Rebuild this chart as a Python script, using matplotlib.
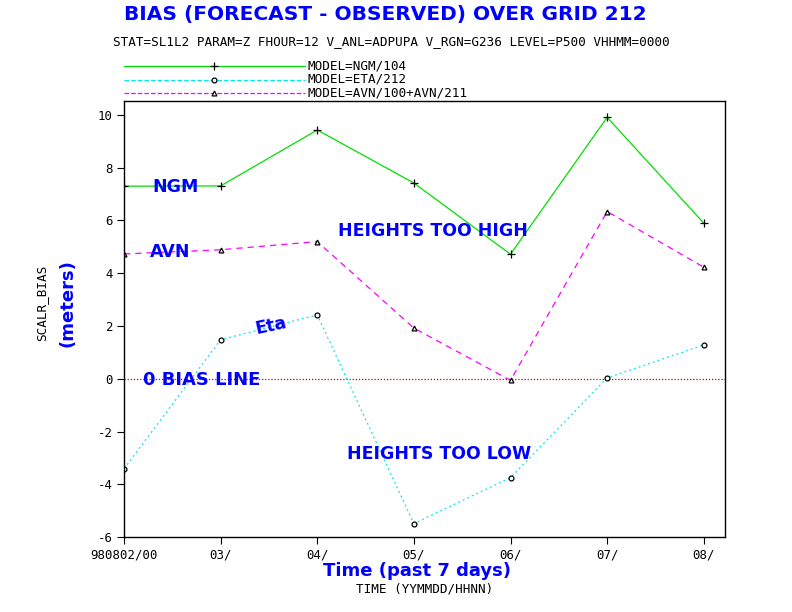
import numpy as np
import matplotlib
matplotlib.use("Agg")
import matplotlib.pyplot as plt

# -----------------------------
# DATA
# -----------------------------
days = [0, 1, 2, 3, 4, 5, 6]
tick_labels = ["980802/00", "03/", "04/", "05/", "06/", "07/", "08/"]

ngm = [7.30, 7.31, 9.43, 7.42, 4.72, 9.91, 5.90]
eta = [-3.41, 1.48, 2.42, -5.49, -3.75, 0.03, 1.28]
avn = [4.73, 4.89, 5.20, 1.92, -0.06, 6.34, 4.23]

MONO = "DejaVu Sans Mono"
BLUE = "#0000ff"
MSIZE = 9.1

fig = plt.figure(figsize=(7.92, 6.12), dpi=100)
ax = fig.add_axes([0.1566, 0.1225, 0.7588, 0.7125])

# -----------------------------
# LINES
# -----------------------------
ln_ngm, = ax.plot(days, ngm, color="#00e000", lw=0.9, ls="-",
                  marker="+", ms=6, mec="black", mew=0.9)
ln_eta, = ax.plot(days, eta, color="#00e8f0", lw=0.9, ls=(0, (1.5, 2.5)),
                  marker="o", ms=3.5, mfc="white", mec="black", mew=0.9)
ln_avn, = ax.plot(days, avn, color="#ff00ff", lw=0.9, ls=(0, (5, 4)),
                  marker="^", ms=3.5, mfc="white", mec="black", mew=0.9)
ax.axhline(0, color="#cc0000", lw=0.9, ls=(0, (1, 1.5)), zorder=1)

ax.set_xlim(0, 6.22)
ax.set_ylim(-6.0, 10.53)
ax.set_xticks(days)
ax.set_xticklabels(tick_labels, family=MONO, fontsize=8.9)
ax.set_yticks([-6, -4, -2, 0, 2, 4, 6, 8, 10])
ax.set_yticklabels(["-6", "-4", "-2", "0", "2", "4", "6", "8", "10"],
                   family=MONO, fontsize=8.9)
ax.tick_params(direction="out", length=5, width=0.8, pad=3)
for s in ax.spines.values():
    s.set_linewidth(1.0)

ax.set_ylabel("SCALR_BIAS", family=MONO, fontsize=MSIZE)
ax.yaxis.set_label_coords(-0.126, 0.537)
ax.set_xlabel("TIME (YYMMDD/HHNN)", family=MONO, fontsize=MSIZE)
ax.xaxis.set_label_coords(0.5, -0.104)

# -----------------------------
# TITLES
# -----------------------------
fig.text(0.486, 0.977, "BIAS (FORECAST - OBSERVED) OVER GRID 212",
         color=BLUE, fontsize=14.5, fontweight="heavy", ha="center", va="center")
fig.text(113 / 792, 1 - 42 / 612,
         "STAT=SL1L2 PARAM=Z FHOUR=12 V_ANL=ADPUPA V_RGN=G236 LEVEL=P500 VHHMM=0000",
         family=MONO, fontsize=MSIZE, ha="left", va="center")

# -----------------------------
# LEGEND (drawn by hand above the axes)
# -----------------------------
leg_rows = [(ln_ngm, "MODEL=NGM/104"), (ln_eta, "MODEL=ETA/212"),
            (ln_avn, "MODEL=AVN/100+AVN/211")]
for i, (ln, lab) in enumerate(leg_rows):
    yy = 1 - (66 + i * 13.5) / 612
    fig.lines.append(plt.Line2D([124 / 792, 305 / 792], [yy, yy], transform=fig.transFigure,
                                color=ln.get_color(), ls=ln.get_linestyle(), lw=0.9))
    fig.lines.append(plt.Line2D([214 / 792], [yy], transform=fig.transFigure,
                                marker=ln.get_marker(), ms=ln.get_markersize(),
                                mfc="white", mec="black", mew=0.9, ls="none"))
    fig.text(308 / 792, yy, lab, family=MONO, fontsize=MSIZE, ha="left", va="center")

# -----------------------------
# ANNOTATIONS
# -----------------------------
def note(x, y, s, size=12.5, rot=0, ha="left"):
    fig.text(x / 792, 1 - y / 612, s, color=BLUE, fontsize=size, fontweight="heavy",
             ha=ha, va="center", rotation=rot)

note(152, 187, "NGM")
note(150, 252, "AVN")
note(253, 326, "Eta", rot=12)
note(143, 380, "0 BIAS LINE", size=13)
note(338, 231, "HEIGHTS TOO HIGH")
note(347, 454, "HEIGHTS TOO LOW")
note(417, 571, "Time (past 7 days)", size=13, ha="center")
fig.text(68 / 792, 1 - 303 / 612, "(meters)", color=BLUE, fontsize=13,
         fontweight="heavy", ha="center", va="center", rotation=90)

fig.savefig("out.png", dpi=100)
